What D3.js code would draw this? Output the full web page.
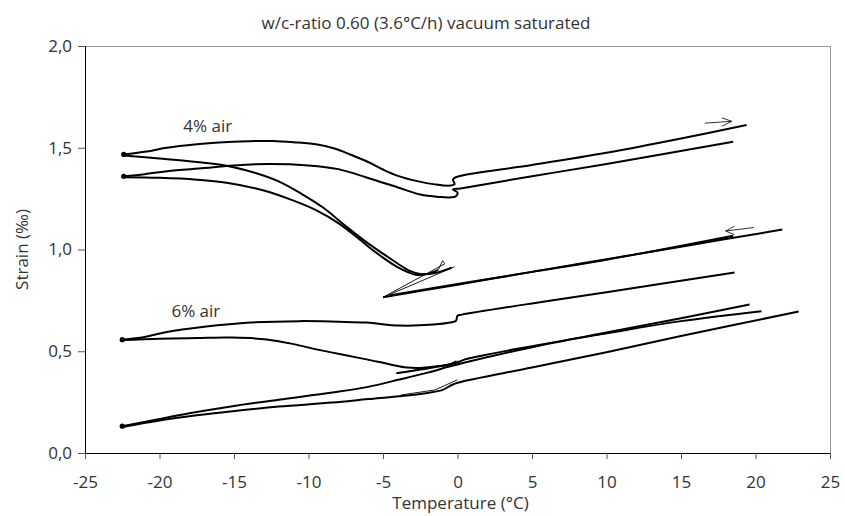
<!DOCTYPE html>
<html>
<head>
<meta charset="utf-8">
<style>
  body { margin: 0; background: #fff; }
  svg text { font-family: "Open Sans", sans-serif; fill: #333; }
  .axis .domain { stroke: #000; }
  .axis line { stroke: #555; }
</style>
</head>
<body>
<svg width="845" height="516"></svg>
<script src="https://cdn.jsdelivr.net/npm/d3@7"></script>
<script>

// ---- data: [temperature °C, strain ‰] ----
var xTicks = [-25, -20, -15, -10, -5, 0, 5, 10, 15, 20, 25];
var yTicks = [0, 0.5, 1.0, 1.5, 2.0];

// 4% air
var air4Top = [[-22.4,1.467],[-21,1.48],[-19.5,1.50],[-17.5,1.517],[-16,1.526],[-14,1.532],[-12.4,1.533],[-11,1.527],[-9.4,1.516],[-8.2,1.495],[-7.2,1.467],[-6,1.43],[-5,1.393],[-4,1.362],[-2.7,1.336],[-1.5,1.32],[-0.5,1.314],[-0.2,1.32],[-0.3,1.345],[0.1,1.36],[5,1.415],[10,1.475],[15,1.545],[19.4,1.612]];
var air4Inner = [[-22.4,1.36],[-21,1.37],[-19.5,1.385],[-17,1.40],[-15,1.413],[-12.7,1.42],[-10,1.413],[-8,1.395],[-6.1,1.354],[-4,1.305],[-2.5,1.27],[-1.2,1.258],[-0.5,1.256],[-0.1,1.262],[0,1.28],[-0.3,1.295],[0.2,1.30],[5,1.36],[10,1.42],[18.5,1.53]];
var air4DropOuter = [[-22.4,1.462],[-20,1.447],[-17.5,1.43],[-15.5,1.412],[-13.5,1.375],[-12,1.335],[-10.5,1.275],[-9,1.205],[-7.5,1.115],[-6,1.03],[-5,0.98],[-4,0.93],[-3.2,0.895],[-2.5,0.88],[-1.5,0.885],[-0.8,0.9],[-0.4,0.91]];
var air4DropInner = [[-22.4,1.355],[-20,1.352],[-17.5,1.343],[-15.5,1.328],[-13,1.29],[-11,1.24],[-9.4,1.19],[-8,1.13],[-7,1.075],[-6,1.015],[-5,0.96],[-4,0.912],[-3.3,0.888],[-2.8,0.876],[-2,0.88],[-1.3,0.90]];
var air4Kink = [[-1.3,0.90],[-1.0,0.945],[-0.85,0.93],[-5.0,0.765],[-0.2,0.915]];
var air4MidA = [[-5.0,0.765],[0,0.827],[5,0.89],[10,0.952],[15,1.014],[21.8,1.098]];
var air4MidB = [[-4.5,0.775],[0,0.83],[5,0.89],[10,0.95],[18.5,1.068]];

// 6% air
var air6Top = [[-22.5,0.557],[-21,0.57],[-19.5,0.595],[-17,0.62],[-13.9,0.641],[-10.6,0.648],[-8,0.645],[-6.1,0.641],[-3.9,0.626],[-1.6,0.631],[-0.5,0.641],[-0.1,0.65],[0,0.675],[0.3,0.68],[5,0.735],[10,0.79],[18.6,0.887]];
var air6Drop = [[-22.5,0.555],[-20,0.562],[-17.5,0.565],[-15.1,0.567],[-12.8,0.558],[-11,0.535],[-9.4,0.508],[-7.5,0.48],[-6.1,0.46],[-4.5,0.435],[-3.4,0.42],[-2.5,0.418],[-1.5,0.425],[-0.5,0.435],[-0.1,0.45]];
var air6Kink = [[-4.1,0.392],[-0.2,0.44],[0,0.455]];
var air6Mid = [[-4.1,0.392],[0,0.445],[0.5,0.46],[5,0.525],[10,0.588],[15,0.648],[20.4,0.697]];

// lower pair
var lowUpper = [[-22.5,0.132],[-20.5,0.16],[-18,0.195],[-15.1,0.23],[-12,0.262],[-8.4,0.297],[-6,0.325],[-3.9,0.361],[-2,0.395],[-0.5,0.426],[0.5,0.445],[5,0.52],[10,0.592],[15,0.662],[19.6,0.73]];
var lowLower = [[-22.5,0.128],[-20,0.16],[-17.5,0.185],[-15.1,0.205],[-12,0.228],[-8.4,0.248],[-6,0.265],[-3.9,0.279],[-2,0.295],[-1,0.31],[-0.5,0.33],[0,0.345],[5,0.42],[10,0.495],[15,0.575],[22.9,0.695]];
var lowKink = [[-3.8,0.285],[-1.5,0.31],[0,0.36]];

// arrows
var arrowHeat = [[16.6,1.621],[18.4,1.63]];
var arrowHeatHead = [[17.75,1.647],[18.4,1.63],[17.75,1.606]];
var arrowCool = [[19.9,1.108],[18.0,1.091]];
var arrowCoolHead = [[18.6,1.115],[18.0,1.091],[18.6,1.072]];

var labels = ["4% air", "6% air"];
var labelPos = [[-18.4,1.575],[-19.2,0.666]];

// ---- chart ----
var svg = d3.select("svg"),
  margin = {top: 46, right: 15, bottom: 63, left: 85},
  width = +svg.attr("width") - margin.left - margin.right,
  height = +svg.attr("height") - margin.top - margin.bottom,
  g = svg.append("g").attr("transform", "translate(" + margin.left + "," + margin.top + ")");

var x = d3.scaleLinear().domain([-25, 25]).range([0, width]);
var y = d3.scaleLinear().domain([0, 2]).range([height, 0]);

var comma = d3.formatLocale({decimal: ",", thousands: ".", grouping: [3], currency: ["", ""]}).format(".1f");

// frame (top + right, grey)
g.append("rect")
  .attr("x", 0.5).attr("y", 0.5)
  .attr("width", width).attr("height", height)
  .attr("fill", "none")
  .attr("stroke", "#999");

var line = d3.line()
  .x(function(d) { return x(d[0]); })
  .y(function(d) { return y(d[1]); })
  .curve(d3.curveCatmullRom.alpha(0.5));

var straight = d3.line()
  .x(function(d) { return x(d[0]); })
  .y(function(d) { return y(d[1]); });

var thick = [air4Top, air4Inner, air4DropOuter, air4DropInner, air4MidA, air4MidB,
  air6Top, air6Drop, air6Mid, lowUpper, lowLower];
var thin = [air4Kink, air6Kink, lowKink];

g.append("g")
  .selectAll("path")
  .data(thick)
  .enter().append("path")
  .attr("d", line)
  .attr("fill", "none")
  .attr("stroke", "#000")
  .attr("stroke-width", 2)
  .attr("stroke-linejoin", "round");

g.append("g")
  .selectAll("path")
  .data(thin)
  .enter().append("path")
  .attr("d", straight)
  .attr("fill", "none")
  .attr("stroke", "#000")
  .attr("stroke-width", 0.9);

g.append("g")
  .selectAll("path")
  .data([arrowHeat, arrowHeatHead, arrowCool, arrowCoolHead])
  .enter().append("path")
  .attr("d", straight)
  .attr("fill", "none")
  .attr("stroke", "#000")
  .attr("stroke-width", 0.8);

// end blobs at -22.5
g.append("g")
  .selectAll("circle")
  .data([air4Top[0], air4Inner[0], air6Top[0], lowUpper[0]])
  .enter().append("circle")
  .attr("cx", function(d) { return x(d[0]); })
  .attr("cy", function(d) { return y(d[1]); })
  .attr("r", 2.6)
  .attr("fill", "#000");

// axes
g.append("g")
  .attr("class", "axis")
  .attr("transform", "translate(0," + height + ")")
  .call(d3.axisBottom(x).tickValues(xTicks).tickSize(6).tickPadding(17)
    .tickFormat(function(d) { return String(d); }))
  .call(function(a) { a.selectAll("text").attr("font-size", 17).attr("fill", "#333"); });

g.append("g")
  .attr("class", "axis")
  .call(d3.axisLeft(y).tickValues(yTicks).tickSize(7).tickPadding(6).tickFormat(comma))
  .call(function(a) { a.selectAll("text").attr("font-size", 17).attr("fill", "#333"); });

svg.selectAll(".axis text").attr("font-family", "'Open Sans', sans-serif");

// titles
svg.append("text")
  .attr("x", 426)
  .attr("y", 29)
  .attr("text-anchor", "middle")
  .attr("font-size", 17)
  .text("w/c-ratio 0.60 (3.6°C/h) vacuum saturated");

svg.append("text")
  .attr("x", margin.left + width / 2 + 3)
  .attr("y", 509)
  .attr("text-anchor", "middle")
  .attr("font-size", 17)
  .text("Temperature (°C)");

svg.append("text")
  .attr("transform", "translate(28," + (margin.top + y(1.0)) + ") rotate(-90)")
  .attr("text-anchor", "middle")
  .attr("font-size", 17)
  .text("Strain (‰)");

// curve labels
g.append("g")
  .selectAll("text")
  .data(labels)
  .enter().append("text")
  .attr("x", function(d, i) { return x(labelPos[i][0]); })
  .attr("y", function(d, i) { return y(labelPos[i][1]); })
  .attr("font-size", 17)
  .text(function(d) { return d; });

</script>
</body>
</html>
